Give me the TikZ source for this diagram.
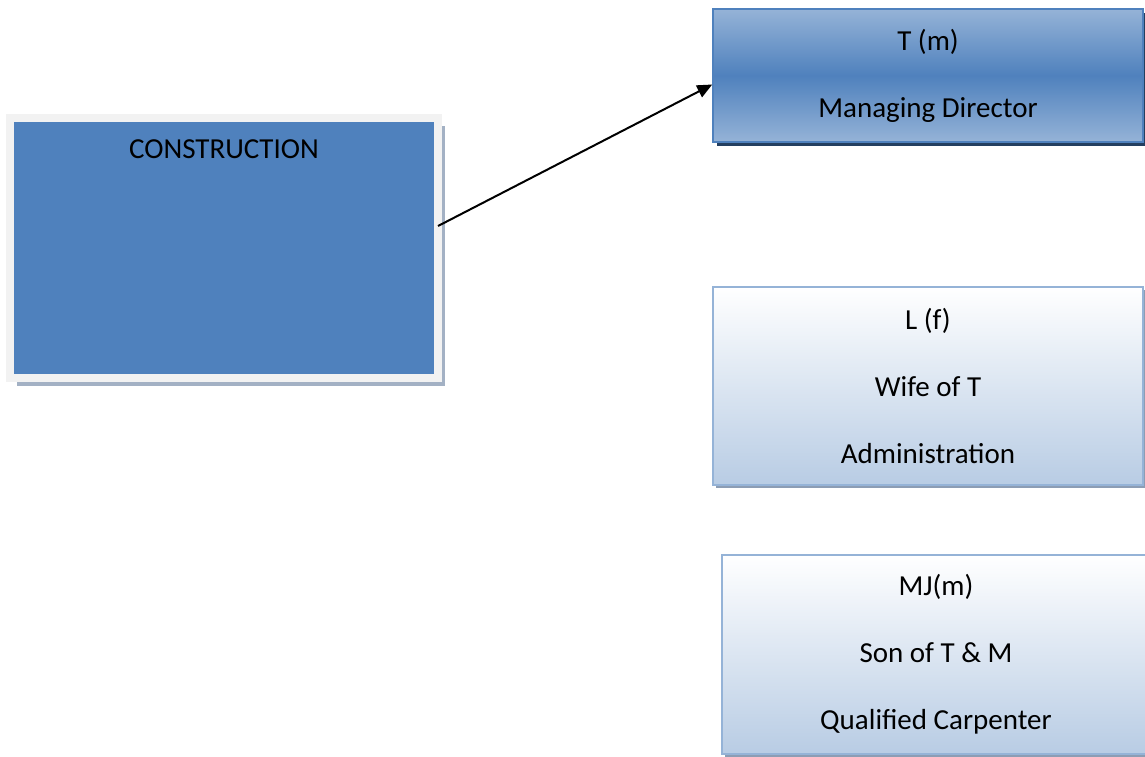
\documentclass[tikz,border=0pt]{standalone}
\usepackage{fontspec}
\setmainfont{Carlito}
\usetikzlibrary{arrows.meta,shadows}
\definecolor{accent}{HTML}{4F81BD}
\definecolor{accentlight}{HTML}{95B3D7}
\definecolor{accentpale}{HTML}{B8CCE4}
\definecolor{navyshadow}{HTML}{243F60}
\definecolor{greyshadow}{HTML}{8C9DB4}
\definecolor{frame}{HTML}{F2F2F2}
\definecolor{frameshadow}{HTML}{A3B1C4}
\tikzset{
  boxtext/.style={font=\fontsize{29}{67}\selectfont, align=center, inner sep=0pt},
  darkbox/.style={boxtext, rectangle, draw=accent, line width=1.5pt,
    top color=accentlight, bottom color=accentlight, middle color=accent,
    drop shadow={shadow xshift=3.5pt, shadow yshift=-4pt, fill=navyshadow, opacity=1}},
  palebox/.style={boxtext, rectangle, draw=accentlight, line width=1.5pt,
    top color=white, bottom color=accentpale,
    drop shadow={shadow xshift=3pt, shadow yshift=-3pt, fill=greyshadow, opacity=1}},
  framedbox/.style={boxtext, rectangle, fill=accent, draw=frame, line width=8pt,
    outer sep=0pt,
    drop shadow={shadow xshift=7pt, shadow yshift=-8pt, fill=frameshadow, opacity=1}},
  link/.style={line width=2pt, -{Triangle[length=15pt,width=13pt]}}
}
\begin{document}
\begin{tikzpicture}[x=1pt, y=-1pt]
  \useasboundingbox (0,0) rectangle (1145,756);

  % company box: title sits at the top of a large panel
  \node[framedbox, text width=428pt, text height=40pt, text depth=220pt]
    (cons) at (224,118) [anchor=north] {CONSTRUCTION};

  % people
  \node[darkbox, minimum width=430pt, minimum height=133pt]
    (md) at (928,75.5) {T (m)\\Managing Director};
  \node[palebox, minimum width=430pt, minimum height=198pt]
    (wife) at (928,386) {L (f)\\Wife of T\\Administration};
  \node[palebox, minimum width=428pt, minimum height=199pt]
    (son) at (936,654.5) {MJ(m)\\Son of T \& M\\Qualified Carpenter};

  \draw[link] ([yshift=22pt]cons.east) -- ([yshift=-9pt]md.west);
\end{tikzpicture}
\end{document}
